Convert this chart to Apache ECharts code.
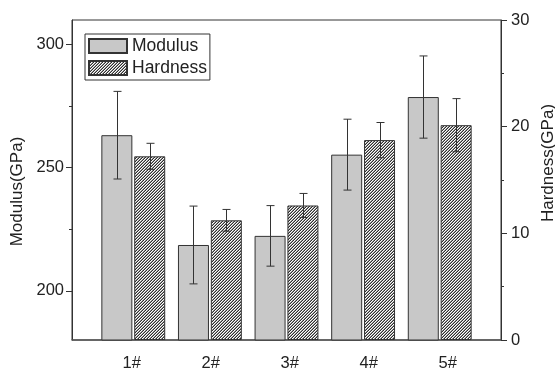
<!DOCTYPE html>
<html><head><meta charset="utf-8">
<script src="https://cdn.jsdelivr.net/npm/echarts@6/dist/echarts.min.js"></script>
<style>html,body{margin:0;padding:0;background:#fff}#c{width:555px;height:370px}</style>
</head><body><div id="c"></div>
<script>
const categories = ['1#', '2#', '3#', '4#', '5#'];
const positions = [1, 2, 3, 4, 5];
const modulus = [263.2, 218.6, 222.3, 255.3, 278.7];
const modulusErr = [17.8, 15.8, 12.3, 14.4, 16.7];
const hardness = [17.22, 11.22, 12.61, 18.74, 20.14];
const hardnessErr = [1.22, 1.02, 1.13, 1.65, 2.49];
const modulusTicks = [200, 250, 300];
const modulusMinorTicks = [225, 275];

const FONT = 'Liberation Sans, Arial, sans-serif';
const INK = '#333';

function hatch() {
  const s = 3, c = document.createElement('canvas');
  c.width = s; c.height = s;
  const g = c.getContext('2d');
  g.fillStyle = '#fff'; g.fillRect(0, 0, s, s);
  for (let x = 0; x < s; x++) for (let y = 0; y < s; y++) {
    const k = (x + y) % 3;
    if (k === 2) { g.fillStyle = '#2e2e2e'; g.fillRect(x, y, 1, 1); }
    else if (k === 1) { g.fillStyle = '#9a9a9a'; g.fillRect(x, y, 1, 1); }
  }
  return c;
}

function errRender(offset) {
  return function (params, api) {
    const x = api.value(0), lo = api.value(1), hi = api.value(2);
    const p1 = api.coord([x, hi]), p2 = api.coord([x, lo]);
    const cx = Math.round(p1[0] + offset) + 0.5, w = 4;
    const st = { stroke: INK, lineWidth: 1 };
    return { type: 'group', children: [
      { type: 'line', shape: { x1: cx, y1: p1[1], x2: cx, y2: p2[1] }, style: st },
      { type: 'line', shape: { x1: cx - w, y1: p1[1], x2: cx + w, y2: p1[1] }, style: st },
      { type: 'line', shape: { x1: cx - w, y1: p2[1], x2: cx + w, y2: p2[1] }, style: st }
    ] };
  };
}

const chart = echarts.init(document.getElementById('c'), null, { renderer: 'canvas' });
chart.setOption({
  animation: false,
  backgroundColor: '#fff',
  textStyle: { fontFamily: FONT },
  grid: { left: 72, right: 54, top: 20, bottom: 30, show: true, borderColor: INK, borderWidth: 1,
    containLabel: false, outerBoundsMode: 'none' },
  legend: {
    data: ['Modulus', 'Hardness'], orient: 'vertical', left: 85, top: 34,
    itemWidth: 38, itemHeight: 14, itemGap: 4, padding: [3, 3, 3, 3],
    borderColor: INK, borderWidth: 1, icon: 'rect',
    textStyle: { fontSize: 17.5, color: '#222', fontFamily: FONT }
  },
  xAxis: [
    { type: 'value', min: 0.2, max: 5.8, position: 'bottom',
      axisLine: { lineStyle: { color: '#555', width: 1.5 } },
      axisTick: { show: false }, axisLabel: { show: false }, splitLine: { show: false } },
    { type: 'value', min: 0.244, max: 5.675, position: 'bottom',
      axisLine: { show: false }, axisTick: { show: false }, splitLine: { show: false },
      axisLabel: { customValues: positions, margin: 15, fontSize: 16.5, color: '#222', fontFamily: FONT,
        formatter: v => categories[positions.indexOf(v)] } }
  ],
  yAxis: [
    { type: 'value', min: 180, max: 310, position: 'left',
      name: 'Modulus(GPa)', nameLocation: 'middle', nameRotate: 90, nameGap: 41,
      nameTextStyle: { fontSize: 17, color: '#222', fontFamily: FONT, padding: [0, 23, 0, 0] },
      axisLine: { show: true, lineStyle: { color: INK } },
      axisTick: { show: true, customValues: modulusTicks, length: 6, lineStyle: { color: INK } },
      axisLabel: { customValues: modulusTicks, fontSize: 16.5, color: '#222', margin: 8, fontFamily: FONT },
      splitLine: { show: false } },
    { type: 'value', min: 0, max: 30, interval: 10, position: 'right',
      name: 'Hardness(GPa)', nameLocation: 'middle', nameRotate: 90, nameGap: 38,
      nameTextStyle: { fontSize: 17, color: '#222', fontFamily: FONT, padding: [0, 0, 0, 34] },
      axisLine: { show: true, lineStyle: { color: INK } },
      axisTick: { show: true, length: 6, lineStyle: { color: INK } },
      minorTick: { show: true, splitNumber: 2, length: 3, lineStyle: { color: INK } },
      axisLabel: { fontSize: 16.5, color: '#222', margin: 10, fontFamily: FONT },
      splitLine: { show: false } },
    { type: 'value', min: 180, max: 310, position: 'left',
      axisLine: { show: false },
      axisTick: { show: true, customValues: modulusMinorTicks, length: 3, lineStyle: { color: INK } },
      axisLabel: { show: false }, splitLine: { show: false } }
  ],
  series: [
    { name: 'Modulus', type: 'bar', xAxisIndex: 0, yAxisIndex: 0, barWidth: 31, barGap: '6%',
      itemStyle: { color: '#c8c8c8', borderColor: INK, borderWidth: 1 },
      data: positions.map((p, i) => [p, modulus[i]]) },
    { name: 'Hardness', type: 'bar', xAxisIndex: 0, yAxisIndex: 1, barWidth: 31, barGap: '6%',
      itemStyle: { color: { image: hatch(), repeat: 'repeat' }, borderColor: INK, borderWidth: 1 },
      data: positions.map((p, i) => [p, hardness[i]]) },
    { name: 'ModulusErr', type: 'custom', xAxisIndex: 0, yAxisIndex: 0, renderItem: errRender(-16.5), z: 10,
      data: positions.map((p, i) => [p, modulus[i] - modulusErr[i], modulus[i] + modulusErr[i]]) },
    { name: 'HardnessErr', type: 'custom', xAxisIndex: 0, yAxisIndex: 1, renderItem: errRender(16.5), z: 10,
      data: positions.map((p, i) => [p, hardness[i] - hardnessErr[i], hardness[i] + hardnessErr[i]]) }
  ]
});
</script>
</body></html>
